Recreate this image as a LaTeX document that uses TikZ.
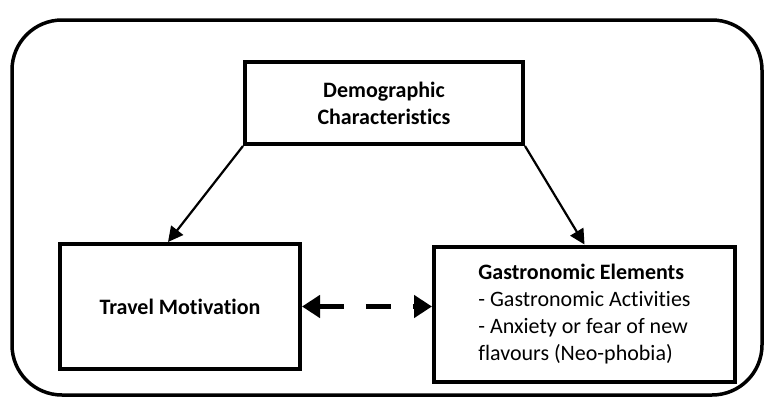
\documentclass[tikz,border=0pt]{standalone}
\usepackage{fontspec}
\setmainfont{Carlito}[Ligatures=NoCommon]
\usetikzlibrary{arrows.meta}
\tikzset{
    factor/.style={draw, line width=4pt, inner sep=0pt, align=center, font=\fontsize{22}{27}\selectfont\bfseries},
    link/.style={line width=2.2pt, -{Triangle[length=15pt,width=15pt]}},
    mutual/.style={line width=5pt, dash pattern=on 25pt off 22pt, {Triangle[length=18pt,width=22pt]}-{Triangle[length=18pt,width=22pt]}}
}
\begin{document}
\begin{tikzpicture}[x=1pt, y=-1pt]
                \useasboundingbox (0,0) rectangle (766,399);
                \draw [line width=3.5pt, rounded corners=50pt] (12,20) rectangle (762,395);
                \node[factor, minimum width=278pt, minimum height=82pt] (demo) at (384,103) {Demographic\\Characteristics};
                \node[factor, minimum width=240pt, minimum height=125pt] (travel) at (180,306.5) {Travel Motivation};
                \node[factor, minimum width=301pt, minimum height=135pt, align=left] (gastro) at (584.5,314) {Gastronomic Elements\\\mdseries - Gastronomic Activities\\\mdseries - Anxiety or fear of new\\\mdseries flavours (Neo-phobia)};
                \draw [link] (demo.south west) -- ([xshift=-12pt]travel.north);
                \draw [link] (demo.south east) -- (gastro.north);
                \draw [mutual] (travel.east) -- (travel.east -| gastro.west);
            \end{tikzpicture}
\end{document}
